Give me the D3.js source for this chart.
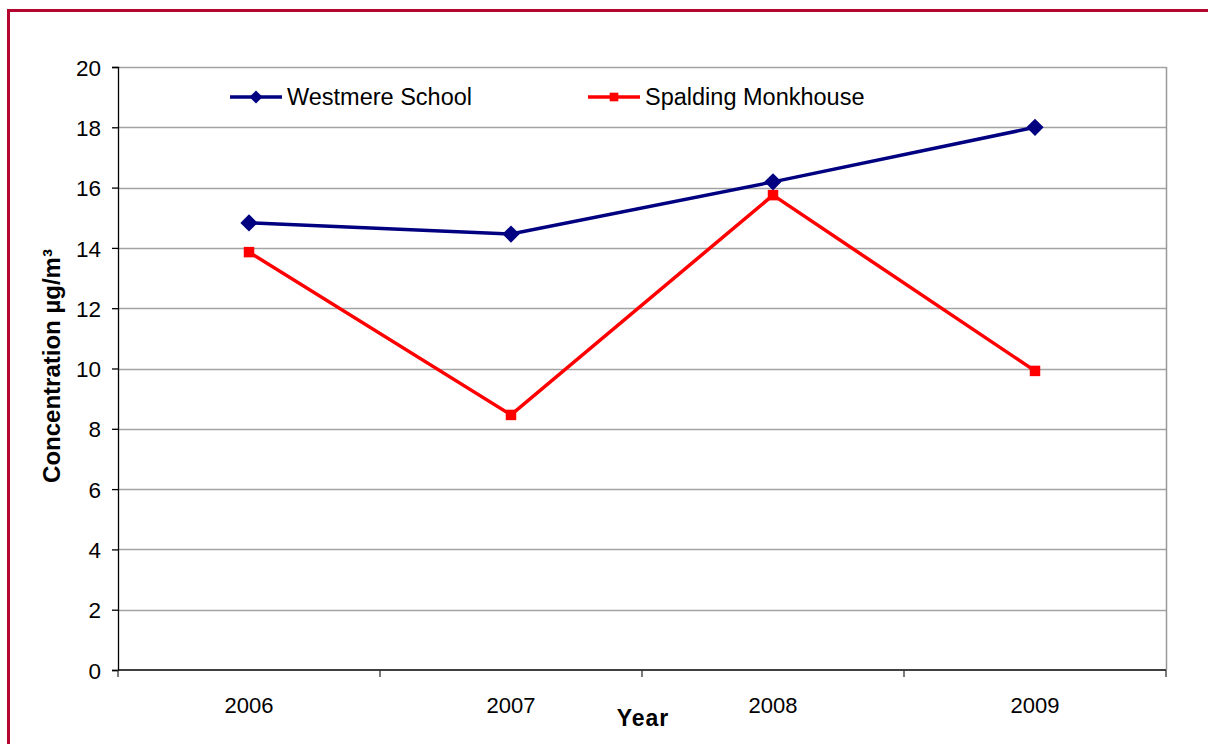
<!DOCTYPE html>
<html>
<head>
<meta charset="utf-8">
<script src="https://cdn.jsdelivr.net/npm/d3@7"></script>
<style>
  body { margin: 0; background: #fff; }
  svg { display: block; font-family: "Liberation Sans", Arial, sans-serif; }
</style>
</head>
<body>
<div id="chart"></div>
<script>
// data
const years = ["2006", "2007", "2008", "2009"];
const westmere = [14.83, 14.46, 16.19, 18.0];
const spalding = [13.86, 8.46, 15.75, 9.92];
const yTicks = [0, 2, 4, 6, 8, 10, 12, 14, 16, 18, 20];

const W = 1208, H = 744;
const margin = {top: 67, right: 42, bottom: 74, left: 118},
    width = W - margin.left - margin.right,
    height = H - margin.top - margin.bottom;

const svg = d3.select("#chart")
    .append("svg")
        .attr("width", W)
        .attr("height", H);

// outer frame
svg.append("rect")
    .attr("x", 8.5).attr("y", 10.5)
    .attr("width", W + 20).attr("height", H + 20)
    .attr("fill", "none")
    .attr("stroke", "#b4062f")
    .attr("stroke-width", 3);

const g = svg.append("g")
    .attr("transform", `translate(${margin.left},${margin.top})`);

const x = d3.scaleBand()
    .domain(years)
    .range([0, width]);

const y = d3.scaleLinear()
    .domain([0, 20])
    .range([height, 0]);

// gridlines
g.append("g")
    .selectAll("line")
    .data(yTicks.filter(d => d > 0))
    .join("line")
        .attr("x1", 0).attr("x2", width)
        .attr("y1", d => Math.round(y(d)) + 0.5)
        .attr("y2", d => Math.round(y(d)) + 0.5)
        .attr("stroke", "#a3a3a3")
        .attr("stroke-width", 1.3);

// right border of plot area
g.append("line")
    .attr("x1", width + 0.5).attr("x2", width + 0.5)
    .attr("y1", 0).attr("y2", height)
    .attr("stroke", "#999")
    .attr("stroke-width", 1.5);

// Y axis
const yAxis = g.append("g")
    .call(d3.axisLeft(y).tickValues(yTicks).tickSize(6).tickPadding(11));
yAxis.selectAll("text").style("font-size", "22.5px").attr("fill", "#000").attr("dy", "0.36em");
yAxis.selectAll("line, path").attr("stroke", "#000").attr("stroke-width", 1.3);

// X axis: ticks at band boundaries
const xAxis = g.append("g")
    .attr("transform", `translate(0,${height})`);
xAxis.append("line")
    .attr("x1", 0).attr("x2", width)
    .attr("stroke", "#000").attr("stroke-width", 1.3);
xAxis.selectAll(".tk")
    .data(years.concat(["end"]))
    .join("line")
        .attr("class", "tk")
        .attr("x1", (d, i) => i < years.length ? x(d) : width)
        .attr("x2", (d, i) => i < years.length ? x(d) : width)
        .attr("y1", 0).attr("y2", 7)
        .attr("stroke", "#333").attr("stroke-width", 1.3);
xAxis.selectAll(".lbl")
    .data(years)
    .join("text")
        .attr("class", "lbl")
        .attr("x", d => x(d) + x.bandwidth() / 2)
        .attr("y", 43)
        .attr("text-anchor", "middle")
        .style("font-size", "22px")
        .text(d => d);

// axis titles
svg.append("text")
    .attr("x", 643).attr("y", 726)
    .attr("text-anchor", "middle")
    .style("font-size", "23px").style("font-weight", "bold")
    .style("letter-spacing", "1px")
    .text("Year");

svg.append("text")
    .attr("transform", "translate(60,366) rotate(-90)")
    .attr("text-anchor", "middle")
    .style("font-size", "24px").style("font-weight", "bold")
    .text("Concentration µg/m³");

// lines
const cx = d => x(d) + x.bandwidth() / 2;
const line = d3.line()
    .x(d => cx(d.year))
    .y(d => y(d.value));

const series = [
    {name: "Westmere School", color: "#000080", values: westmere, shape: d3.symbolDiamond2, size: 190, lsize: 110},
    {name: "Spalding Monkhouse", color: "#ff0000", values: spalding, shape: d3.symbolSquare2, size: 140, lsize: 95}
];

series.forEach(s => {
    const pts = years.map((yr, i) => ({year: yr, value: s.values[i]}));
    g.append("path")
        .datum(pts)
        .attr("fill", "none")
        .attr("stroke", s.color)
        .attr("stroke-width", 3.5)
        .attr("d", line);
    g.append("g")
        .selectAll("path")
        .data(pts)
        .join("path")
            .attr("transform", d => `translate(${cx(d.year)},${y(d.value)})`)
            .attr("d", d3.symbol(s.shape, s.size))
            .attr("fill", s.color);
});

// legend
const legendX = [230, 588];
const legend = svg.selectAll(".legend")
    .data(series)
    .join("g")
        .attr("class", "legend")
        .attr("transform", (d, i) => `translate(${legendX[i]},97)`);
legend.append("line")
    .attr("x1", 0).attr("x2", 52)
    .attr("stroke", d => d.color)
    .attr("stroke-width", 3.5);
legend.append("path")
    .attr("transform", "translate(26,0)")
    .attr("d", d => d3.symbol(d.shape, d.lsize)())
    .attr("fill", d => d.color);
legend.append("text")
    .attr("x", 57).attr("y", 8)
    .style("font-size", "23.5px")
    .text(d => d.name);
</script>
</body>
</html>
